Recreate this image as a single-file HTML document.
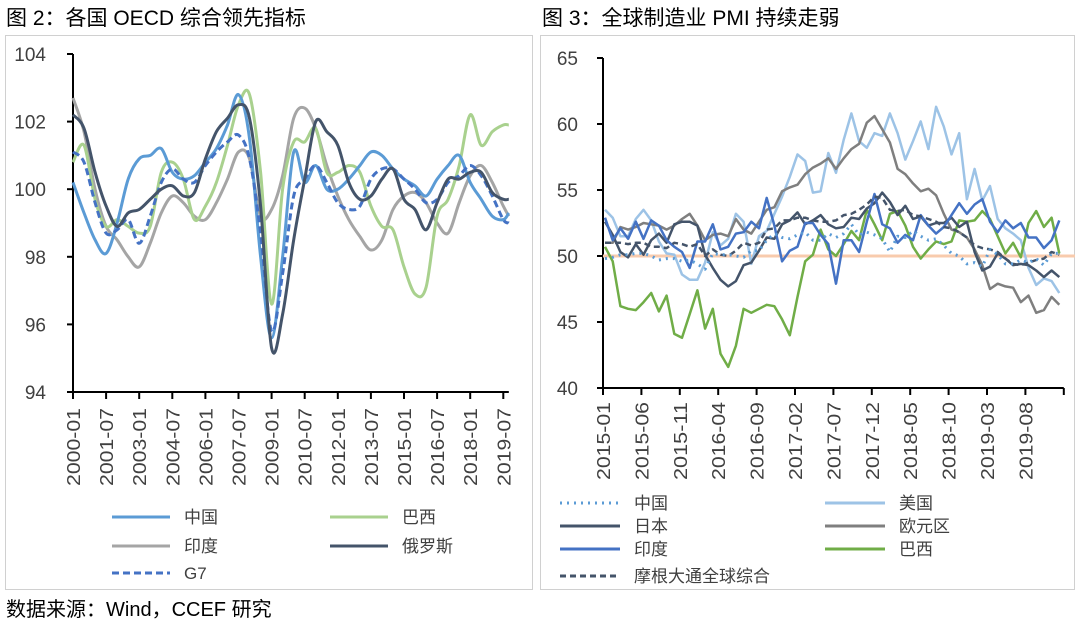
<!DOCTYPE html>
<html><head><meta charset="utf-8">
<style>
body{margin:0;width:1080px;height:625px;background:#fff;overflow:hidden;font-family:"Liberation Sans","Noto Sans CJK SC",sans-serif;}
svg{position:absolute;left:0;top:0}
</style></head>
<body>
<svg id="c" width="1080" height="625">
<text x="6" y="25" font-size="21" fill="#000">图 2：各国 OECD 综合领先指标</text>
<text x="542" y="25" font-size="21" fill="#000">图 3：全球制造业 PMI 持续走弱</text>
<rect x="5.5" y="35.5" width="527" height="554" fill="none" stroke="#d0d0d0"/>
<rect x="540.5" y="35.5" width="534" height="554" fill="none" stroke="#d0d0d0"/>
<text x="6" y="616" font-size="20" fill="#000">数据来源：Wind，CCEF 研究</text>
</svg>
<script>
// ---------- Left chart data (OECD CLI, sampled every 6 months from 2000-01) ----------
const leftMonths = [0,6,12,18,24,30,36,42,48,54,60,66,72,78,84,90,96,102,108,114,120,126,132,138,144,150,156,162,168,174,180,186,192,198,204,210,216,222,228,234,237];
const leftTickLabels = ["2000-01","2001-07","2003-01","2004-07","2006-01","2007-07","2009-01","2010-07","2012-01","2013-07","2015-01","2016-07","2018-01","2019-07"];
const leftYTicks = [94,96,98,100,102,104];
const cnCLI = [100.2,99.3,98.5,98.1,99.0,100.3,100.9,101.0,101.2,100.5,100.3,100.4,100.8,101.2,101.9,102.8,101.5,98.0,95.6,98.0,101.1,100.2,100.7,100.0,100.0,100.3,100.7,101.1,101.0,100.6,100.3,100.1,99.8,100.3,100.7,101.0,100.2,99.7,99.2,99.1,99.3];
const brCLI = [100.8,101.3,99.7,98.9,99.1,98.9,98.7,98.9,100.5,100.8,100.3,99.1,99.5,100.2,101.3,102.5,102.8,100.5,96.6,100.0,101.4,101.4,101.8,100.5,100.5,100.7,100.5,99.5,98.9,98.8,97.7,96.9,97.1,99.2,99.7,100.7,102.2,101.3,101.7,101.9,101.9];
const inCLI = [102.7,101.7,100.0,98.9,98.5,98.0,97.7,98.4,99.3,99.8,99.6,99.2,99.1,99.6,100.3,101.1,100.9,99.2,99.4,100.4,102.1,102.4,101.8,100.7,99.8,99.1,98.6,98.2,98.5,99.4,99.8,99.9,99.6,99.0,98.7,99.6,100.4,100.7,100.2,99.5,99.2];
const ruCLI = [102.2,101.8,100.5,99.5,98.9,99.3,99.4,99.7,100.0,100.1,99.8,99.9,100.9,101.7,102.1,102.5,102.1,99.5,95.3,96.3,98.5,100.3,102.0,101.7,101.3,100.2,99.7,99.8,100.3,100.6,99.7,99.4,98.8,99.6,100.3,100.3,100.5,100.5,99.9,99.7,99.7];
const g7CLI = [101.1,100.8,99.6,98.7,98.8,99.1,98.4,99.2,100.2,100.6,100.3,100.2,100.7,101.1,101.4,101.6,100.9,98.7,95.8,97.5,99.8,100.3,100.7,100.2,99.6,99.4,99.5,100.3,100.6,100.6,100.3,100.0,99.6,99.7,100.2,100.4,100.7,100.4,99.8,99.1,99.0];

// ---------- Right chart data (monthly PMI 2015-01 .. 2019-12) ----------
const rightTickLabels = ["2015-01","2015-06","2015-11","2016-04","2016-09","2017-02","2017-07","2017-12","2018-05","2018-10","2019-03","2019-08"];
const rightYTicks = [40,45,50,55,60,65];
const cnPMI = [49.8,49.9,50.1,50.1,50.2,50.2,50.0,49.7,49.8,49.8,49.6,49.7,49.4,49.0,50.2,50.1,50.1,50.0,49.9,50.4,50.4,51.2,51.7,51.4,51.3,51.6,51.8,51.2,51.2,51.7,51.4,51.7,52.4,51.6,51.8,51.6,51.3,50.3,51.5,51.4,51.9,51.5,51.2,51.3,50.8,50.2,50.0,49.4,49.5,49.2,50.5,50.1,49.4,49.4,49.7,49.5,49.8,49.3,50.2,50.2];
const usPMI = [53.5,52.9,51.5,51.5,52.8,53.5,52.7,51.1,50.2,50.1,48.6,48.2,48.2,49.5,51.8,50.8,51.3,53.2,52.6,49.4,51.5,51.9,53.2,54.5,56.0,57.7,57.2,54.8,54.9,57.8,56.3,58.8,60.8,58.7,58.2,59.3,59.1,60.8,59.3,57.3,58.7,60.2,58.1,61.3,59.8,57.7,59.3,54.3,56.6,54.2,55.3,52.8,52.1,51.7,51.2,49.1,47.8,48.3,48.1,47.2];
const jpPMI = [52.6,51.6,50.3,49.9,50.9,50.1,51.2,51.7,51.0,52.4,52.6,52.6,52.3,50.1,49.1,48.2,47.7,48.1,49.3,49.5,50.4,51.4,51.3,52.4,52.7,53.3,52.4,52.7,53.1,52.4,52.1,52.2,52.9,52.8,53.6,54.0,54.8,54.1,53.1,53.8,52.8,53.0,52.3,52.5,52.5,52.9,52.2,52.6,50.3,48.9,49.2,50.2,49.8,49.3,49.4,49.3,48.9,48.4,48.9,48.4];
const euPMI = [51.0,51.0,52.2,52.0,52.2,52.5,52.4,52.3,52.0,52.3,52.8,53.2,52.3,51.2,51.6,51.7,51.5,52.8,52.0,51.7,52.6,53.5,53.7,54.9,55.2,55.4,56.2,56.7,57.0,57.4,56.6,57.4,58.1,58.5,60.1,60.6,59.6,58.6,56.6,56.2,55.5,54.9,55.1,54.6,53.2,52.0,51.8,51.4,50.5,49.3,47.5,47.9,47.7,47.6,46.5,47.0,45.7,45.9,46.9,46.3];
const inPMI = [52.9,51.2,52.1,51.3,52.6,51.3,52.7,52.3,51.2,50.7,50.3,49.1,51.1,51.1,52.4,50.5,50.7,51.7,51.8,52.6,52.1,54.4,52.3,49.6,50.4,50.7,52.5,52.5,51.6,50.9,47.9,51.2,51.2,50.3,52.6,54.7,52.4,52.1,51.0,51.6,51.2,53.1,52.3,51.7,52.2,53.1,54.0,53.2,53.9,54.3,52.6,51.8,52.7,52.1,52.5,51.4,51.4,50.6,51.2,52.7];
const brPMI = [50.7,49.6,46.2,46.0,45.9,46.5,47.2,45.8,47.0,44.1,43.8,45.6,47.4,44.5,46.0,42.6,41.6,43.2,46.0,45.7,46.0,46.3,46.2,45.2,44.0,46.9,49.6,50.1,52.0,50.5,50.0,50.9,51.9,51.2,53.5,52.4,51.2,53.2,53.4,52.3,50.7,49.8,50.5,51.1,50.9,51.1,52.7,52.6,52.7,53.4,52.8,51.5,50.2,51.0,49.9,52.5,53.4,52.2,52.9,50.2];
const glPMI = [51.0,51.0,51.0,50.9,51.0,51.0,50.7,50.7,50.6,51.0,50.9,50.7,50.9,50.0,50.5,50.1,50.0,50.4,51.0,50.8,51.0,52.0,52.1,52.7,52.7,52.9,52.9,52.7,52.6,52.6,52.7,53.1,53.2,53.5,53.9,54.5,54.4,53.5,53.4,53.5,53.1,53.0,52.8,52.6,52.2,52.1,51.8,51.4,50.8,50.6,50.5,50.3,49.8,49.4,49.3,49.5,49.7,49.8,50.3,50.1];

const NS='http://www.w3.org/2000/svg';
const svg=document.getElementById('c');
function mk(tag,attrs,parent){const e=document.createElementNS(NS,tag);for(const k in attrs)e.setAttribute(k,attrs[k]);(parent||svg).appendChild(e);return e;}

// ---------- Left axes ----------
const LX0=73, LPM=33.1/18, LY0=392, LPU=33.8;
const lx=m=>LX0+m*LPM;
const ly=v=>LY0-(v-94)*LPU;
function catmull(pts){let d='M'+pts[0][0]+','+pts[0][1];for(let i=0;i<pts.length-1;i++){const p0=pts[i-1]||pts[i],p1=pts[i],p2=pts[i+1],p3=pts[i+2]||p2;const c1x=p1[0]+(p2[0]-p0[0])/6,c1y=p1[1]+(p2[1]-p0[1])/6,c2x=p2[0]-(p3[0]-p1[0])/6,c2y=p2[1]-(p3[1]-p1[1])/6;d+=` C${c1x.toFixed(1)},${c1y.toFixed(1)} ${c2x.toFixed(1)},${c2y.toFixed(1)} ${p2[0].toFixed(1)},${p2[1].toFixed(1)}`;}return d;}

const lax=mk('path',{d:`M${LX0},${ly(104)} V${LY0} H${lx(237)}`,stroke:'#000','stroke-width':2,fill:'none'});


leftYTicks.forEach(v=>{
  const t=mk('line',{x1:LX0-6,x2:LX0,y1:ly(v),y2:ly(v),stroke:'#000','stroke-width':2});
  
  
  const tx=mk('text',{x:46,y:ly(v)+7,'text-anchor':'end','font-size':19,fill:'#404040'});
  tx.textContent=v;
  
  
});
leftTickLabels.forEach((s,k)=>{
  const x=lx(k*18);
  const t=mk('line',{x1:x,x2:x,y1:LY0,y2:LY0+7,stroke:'#000','stroke-width':2});
  
  
  const tx=mk('text',{x:0,y:0,'text-anchor':'end','font-size':18,fill:'#404040',textLength:78,lengthAdjust:'spacingAndGlyphs',transform:`translate(${x+7},${LY0+16}) rotate(-90)`});
  tx.textContent=s;
  
  
});
const leftSeries=[
 [inCLI,'#a5a5a5','','india-cli-line'],[brCLI,'#a9d18e','','brazil-cli-line'],[cnCLI,'#5b9bd5','','china-cli-line'],
 [g7CLI,'#4472c4','7,4','g7-cli-line'],[ruCLI,'#44546a','','russia-cli-line']];
leftSeries.forEach(([vals,col,dash,name])=>{
  const pts=vals.map((v,i)=>[lx(leftMonths[i]),ly(v)]);
  const p=mk('path',{d:catmull(pts),stroke:col,'stroke-width':3,fill:'none','stroke-dasharray':dash,'stroke-linejoin':'round'});
  
  
});

// ---------- Right axes ----------
const RX0=603, RXS=605, RPM=7.7, RY0=388, RPU=13.2;
const rx=i=>RXS+i*RPM;
const ry=v=>RY0-(v-40)*RPU;
const rax=mk('path',{d:`M${RX0},${ry(65)} V${RY0} H${RX0+12*38.4}`,stroke:'#000','stroke-width':2,fill:'none'});


rightYTicks.forEach(v=>{
  const t=mk('line',{x1:RX0-6,x2:RX0,y1:ry(v),y2:ry(v),stroke:'#000','stroke-width':2});
  
  
  const tx=mk('text',{x:RX0-25,y:ry(v)+7,'text-anchor':'end','font-size':19,fill:'#404040'});
  tx.textContent=v;
  
  
});
for(let k=0;k<=12;k++){
  const x=RX0+k*38.4;
  const t=mk('line',{x1:x,x2:x,y1:RY0,y2:RY0+7,stroke:'#000','stroke-width':2});
  
  
  if(k<rightTickLabels.length){
    const tx=mk('text',{x:0,y:0,'text-anchor':'end','font-size':18,fill:'#404040',textLength:78,lengthAdjust:'spacingAndGlyphs',transform:`translate(${x+7},${RY0+14}) rotate(-90)`});
    tx.textContent=rightTickLabels[k];
    
    
  }
}
const ref=mk('line',{x1:RX0,x2:1075,y1:ry(50),y2:ry(50),stroke:'#f8cbad','stroke-width':3});


const rightSeries=[
 [usPMI,'#9dc3e6','','us-pmi-line'],[euPMI,'#7f7f7f','','eurozone-pmi-line'],[brPMI,'#70ad47','','brazil-pmi-line'],
 [jpPMI,'#44546a','','japan-pmi-line'],[inPMI,'#4472c4','','india-pmi-line'],
 [glPMI,'#44546a','6,4','global-pmi-line'],[cnPMI,'#5b9bd5','2,5','china-pmi-line']];
rightSeries.forEach(([vals,col,dash,name])=>{
  const pts=vals.map((v,i)=>rx(i).toFixed(1)+','+ry(v).toFixed(1)).join(' ');
  const p=mk('polyline',{points:pts,stroke:col,'stroke-width':dash==='2,5'?3:2.5,fill:'none','stroke-dasharray':dash,'stroke-linejoin':'round'});
  
  
});

// ---------- Legends ----------
function legend(x,y,col,dash,label,w){
  const g=mk('g',{});
  
  
  mk('line',{x1:x,x2:x+w,y1:y,y2:y,stroke:col,'stroke-width':3,'stroke-dasharray':dash},g);
  const t=mk('text',{x:x+w+14,y:y+6,'font-size':17,fill:'#404040'},g);
  t.textContent=label;
}
legend(112,517,'#5b9bd5','','中国',58);
legend(330,517,'#a9d18e','','巴西',58);
legend(112,546,'#a5a5a5','','印度',58);
legend(330,546,'#44546a','','俄罗斯',58);
legend(112,573,'#4472c4','7,4','G7',58);
legend(560,503,'#5b9bd5','2,5','中国',60);
legend(825,503,'#9dc3e6','','美国',60);
legend(560,526,'#44546a','','日本',60);
legend(825,526,'#7f7f7f','','欧元区',60);
legend(560,549,'#4472c4','','印度',60);
legend(825,549,'#70ad47','','巴西',60);
legend(560,576,'#44546a','6,4','摩根大通全球综合',60);
</script>
</body></html>
